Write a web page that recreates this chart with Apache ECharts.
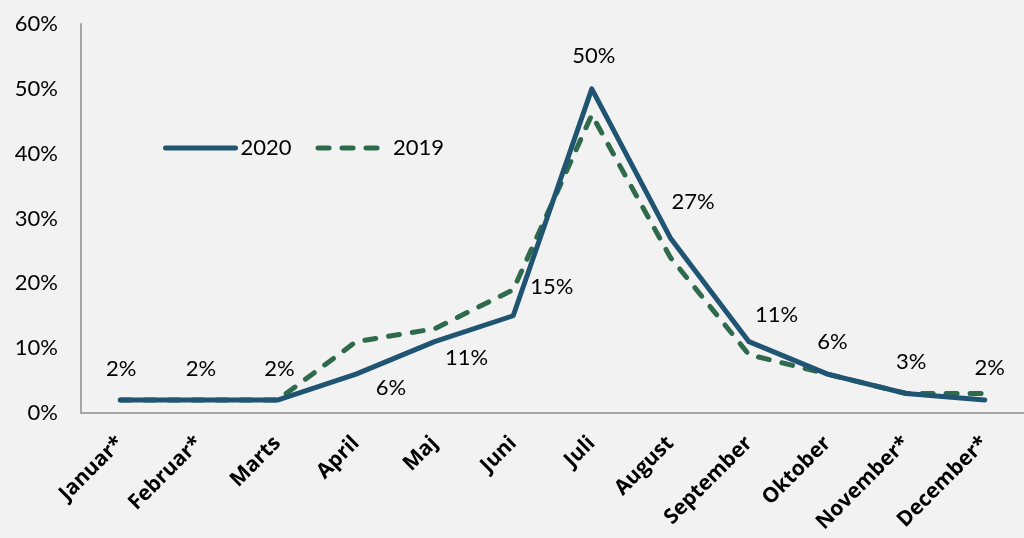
<!DOCTYPE html>
<html><head><meta charset="utf-8">
<script src="https://cdn.jsdelivr.net/npm/echarts@6/dist/echarts.min.js"></script>
<style>html,body{margin:0;padding:0;background:#f2f2f2}#c{width:1024px;height:538px}</style>
</head><body><div id="c"></div>
<script>
var categories = ['Januar*','Februar*','Marts','April','Maj','Juni','Juli','August','September','Oktober','November*','December*'];
var values2020 = [2,2,2,6,11,15,50,27,11,6,3,2];
var values2019 = [2,2,2,11,13,19,46,24,9,6,3,3];
var yTicks = [0,10,20,30,40,50,60];

// label placement for 2020 series (layout only)
var labelPlace = [
  {position:'top', offset:[1,-14]},
  {position:'top', offset:[2,-14]},
  {position:'top', offset:[2,-14]},
  {position:'bottom', offset:[35,-3]},
  {position:'bottom', offset:[32,-1]},
  {position:'right', offset:[11,-29]},
  {position:'top', offset:[2,-16]},
  {position:'right', offset:[-5,-36]},
  {position:'right', offset:[0,-27]},
  {position:'top', offset:[5,-15]},
  {position:'top', offset:[5,-15]},
  {position:'top', offset:[5,-15]}
];

var d2020 = values2020.map(function(v,i){
  return {value:v, label:{show:true, position:labelPlace[i].position, offset:labelPlace[i].offset}};
});

var chart = echarts.init(document.getElementById('c'));
chart.setOption({
  backgroundColor:'#f2f2f2',
  animation:false,
  textStyle:{fontFamily:'Lato'},
  grid:{left:81, top:24, width:950, height:389},
  legend:{
    left:158, top:132, itemWidth:70, itemHeight:16, itemGap:24,
    itemStyle:{opacity:0},
    textStyle:{fontSize:22, color:'#000', fontFamily:'Lato'},
    data:[
      {name:'2020', lineStyle:{width:5, cap:'round'}},
      {name:'2019', lineStyle:{width:5, type:[11,13], cap:'round'}}
    ]
  },
  xAxis:{
    type:'category', data:categories, boundaryGap:true,
    axisLine:{lineStyle:{color:'#a6a6a6', width:2}},
    axisTick:{show:false},
    axisLabel:{rotate:45, fontSize:21, fontWeight:'bold', color:'#000', margin:27, interval:0, fontFamily:'Open Sans'}
  },
  yAxis:{
    type:'value', min:yTicks[0], max:yTicks[yTicks.length-1], interval:10,
    axisLine:{show:true, lineStyle:{color:'#a6a6a6', width:2}},
    axisTick:{show:false},
    splitLine:{show:false},
    axisLabel:{formatter:'{value}%', fontSize:22, color:'#000', margin:23}
  },
  series:[
    {name:'2020', type:'line', data:d2020, symbol:'circle', symbolSize:2, showSymbol:true, z:3,
     lineStyle:{color:'#1f5572', width:5, cap:'round', join:'round'},
     itemStyle:{color:'#1f5572'},
     label:{show:true, formatter:'{c}%', fontSize:22, color:'#000', fontFamily:'Lato'}},
    {name:'2019', type:'line', data:values2019, symbol:'none', z:2,
     lineStyle:{color:'#2e6a4b', width:5, type:[11,13], cap:'round', join:'round'},
     itemStyle:{color:'#2e6a4b'}}
  ]
});
</script></body></html>
